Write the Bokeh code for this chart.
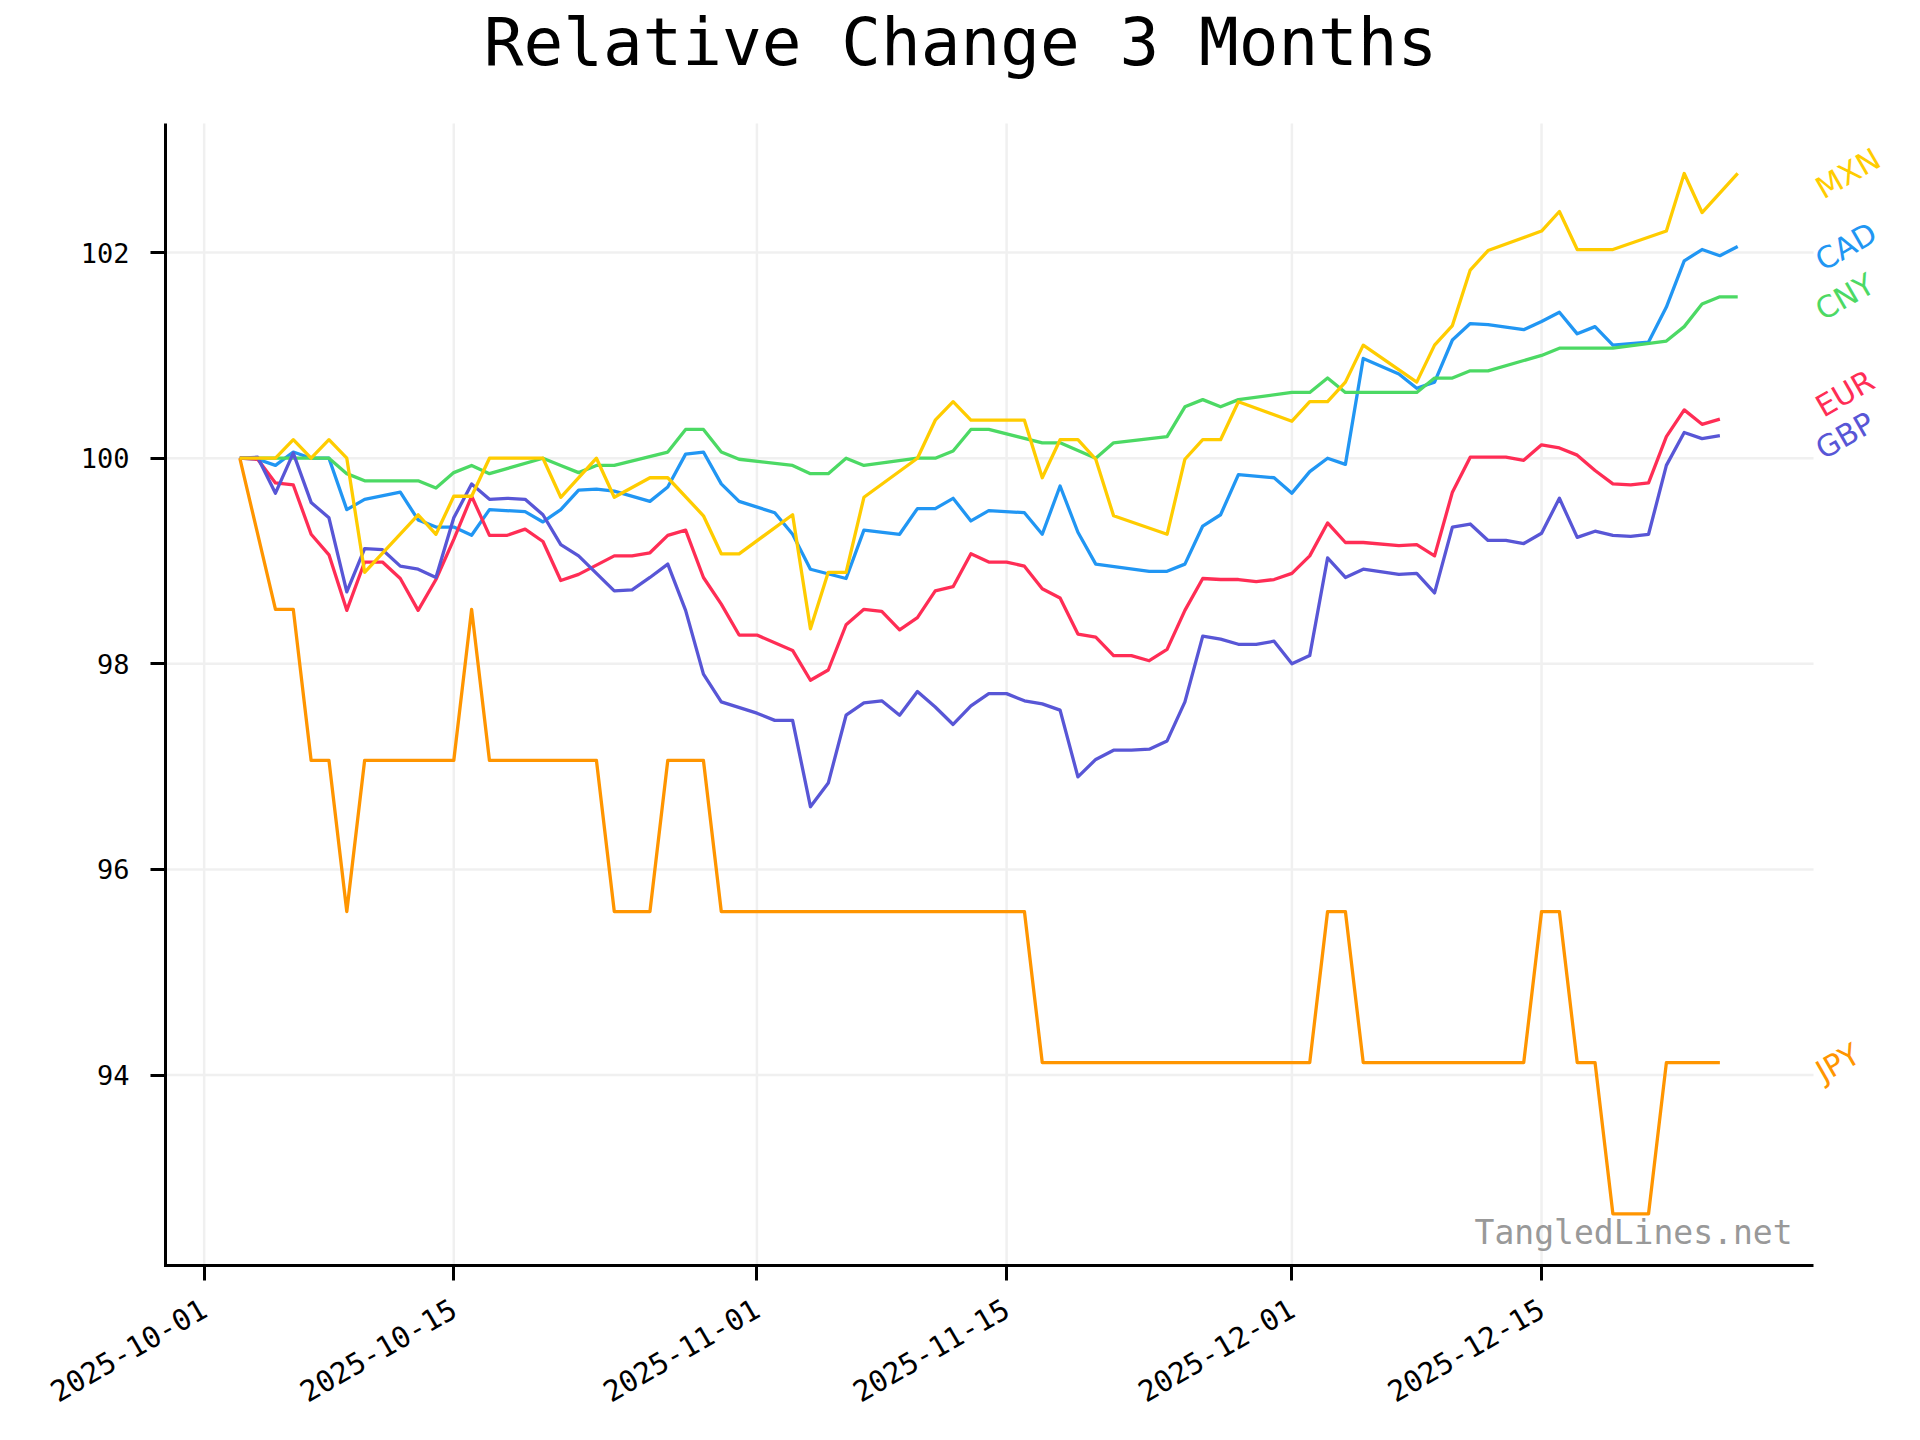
import math
import pandas as pd
from bokeh.plotting import figure
from bokeh.models import Range1d, FixedTicker, DatetimeTickFormatter, Label
from bokeh.embed import file_html
from bokeh.resources import INLINE

# ---------------- data ----------------
mxn_dates = ["2025-10-03", "2025-10-05", "2025-10-06", "2025-10-07", "2025-10-08", "2025-10-09", "2025-10-10",
             "2025-10-13", "2025-10-14", "2025-10-15", "2025-10-16", "2025-10-17", "2025-10-20", "2025-10-21",
             "2025-10-23", "2025-10-24", "2025-10-26", "2025-10-27", "2025-10-29", "2025-10-30", "2025-10-31",
             "2025-11-03", "2025-11-04", "2025-11-05", "2025-11-06", "2025-11-07", "2025-11-10", "2025-11-11",
             "2025-11-12", "2025-11-13", "2025-11-16", "2025-11-17", "2025-11-18", "2025-11-19", "2025-11-20",
             "2025-11-21", "2025-11-24", "2025-11-25", "2025-11-26", "2025-11-27", "2025-11-28", "2025-12-01",
             "2025-12-02", "2025-12-03", "2025-12-04", "2025-12-05", "2025-12-08", "2025-12-09", "2025-12-10",
             "2025-12-11", "2025-12-12", "2025-12-15", "2025-12-16", "2025-12-17", "2025-12-19", "2025-12-22",
             "2025-12-23", "2025-12-24", "2025-12-26"]
mxn_values = [100.00, 100.00, 100.18, 100.00, 100.18, 100.00, 98.89,
              99.45, 99.26, 99.63, 99.63, 100.00, 100.00, 99.62,
              100.00, 99.62, 99.81, 99.81, 99.44, 99.07, 99.07,
              99.45, 98.34, 98.89, 98.89, 99.62, 100.00, 100.37,
              100.55, 100.37, 100.37, 99.81, 100.18, 100.18, 99.99,
              99.44, 99.26, 99.99, 100.18, 100.18, 100.55, 100.36,
              100.55, 100.55, 100.74, 101.10, 100.74, 101.10, 101.29,
              101.83, 102.02, 102.21, 102.40, 102.03, 102.03, 102.21,
              102.77, 102.39, 102.77]

cny_dates = ["2025-10-03", "2025-10-08", "2025-10-09", "2025-10-10", "2025-10-13", "2025-10-14", "2025-10-15",
             "2025-10-16", "2025-10-17", "2025-10-20", "2025-10-21", "2025-10-22", "2025-10-23", "2025-10-24",
             "2025-10-27", "2025-10-28", "2025-10-29", "2025-10-30", "2025-10-31", "2025-11-03", "2025-11-04",
             "2025-11-05", "2025-11-06", "2025-11-07", "2025-11-10", "2025-11-11", "2025-11-12", "2025-11-13",
             "2025-11-14", "2025-11-17", "2025-11-18", "2025-11-20", "2025-11-21", "2025-11-24", "2025-11-25",
             "2025-11-26", "2025-11-27", "2025-11-28", "2025-12-01", "2025-12-02", "2025-12-03", "2025-12-04",
             "2025-12-08", "2025-12-09", "2025-12-10", "2025-12-11", "2025-12-12", "2025-12-15", "2025-12-16",
             "2025-12-19", "2025-12-22", "2025-12-23", "2025-12-24", "2025-12-25", "2025-12-26"]
cny_values = [100.00, 100.00, 99.85, 99.78, 99.78, 99.71, 99.86,
              99.93, 99.85, 100.00, 99.93, 99.86, 99.93, 99.93,
              100.06, 100.28, 100.28, 100.06, 99.99, 99.93, 99.85,
              99.85, 100.00, 99.93, 100.00, 100.00, 100.07, 100.28,
              100.28, 100.15, 100.15, 100.00, 100.15, 100.21, 100.50,
              100.57, 100.50, 100.57, 100.64, 100.64, 100.78, 100.64,
              100.64, 100.78, 100.78, 100.85, 100.85, 101.00, 101.07,
              101.07, 101.14, 101.28, 101.50, 101.57, 101.57]

cad_dates = ["2025-10-03", "2025-10-04", "2025-10-05", "2025-10-06", "2025-10-07", "2025-10-08", "2025-10-09",
             "2025-10-10", "2025-10-12", "2025-10-13", "2025-10-14", "2025-10-15", "2025-10-16", "2025-10-17",
             "2025-10-19", "2025-10-20", "2025-10-21", "2025-10-22", "2025-10-23", "2025-10-24", "2025-10-26",
             "2025-10-27", "2025-10-28", "2025-10-29", "2025-10-30", "2025-10-31", "2025-11-02", "2025-11-03",
             "2025-11-04", "2025-11-06", "2025-11-07", "2025-11-09", "2025-11-10", "2025-11-11", "2025-11-12",
             "2025-11-13", "2025-11-14", "2025-11-16", "2025-11-17", "2025-11-18", "2025-11-19", "2025-11-20",
             "2025-11-23", "2025-11-24", "2025-11-25", "2025-11-26", "2025-11-27", "2025-11-28", "2025-11-30",
             "2025-12-01", "2025-12-02", "2025-12-03", "2025-12-04", "2025-12-05", "2025-12-07", "2025-12-08",
             "2025-12-09", "2025-12-10", "2025-12-11", "2025-12-12", "2025-12-14", "2025-12-15", "2025-12-16",
             "2025-12-17", "2025-12-18", "2025-12-19", "2025-12-21", "2025-12-22", "2025-12-23", "2025-12-24",
             "2025-12-25", "2025-12-26"]
cad_values = [100.00, 99.99, 99.93, 100.06, 100.00, 100.00, 99.50,
              99.60, 99.67, 99.40, 99.33, 99.33, 99.25, 99.50,
              99.48, 99.38, 99.50, 99.69, 99.70, 99.68, 99.58,
              99.72, 100.04, 100.06, 99.75, 99.58, 99.47, 99.26,
              98.92, 98.83, 99.30, 99.26, 99.51, 99.51, 99.61,
              99.39, 99.49, 99.47, 99.26, 99.73, 99.28, 98.97,
              98.90, 98.90, 98.97, 99.34, 99.45, 99.84, 99.81,
              99.66, 99.87, 100.00, 99.94, 100.97, 100.82, 100.68,
              100.74, 101.15, 101.31, 101.30, 101.25, 101.33, 101.42,
              101.21, 101.28, 101.10, 101.13, 101.47, 101.92, 102.03,
              101.97, 102.06]

eur_dates = ["2025-10-03", "2025-10-04", "2025-10-05", "2025-10-06", "2025-10-07", "2025-10-08", "2025-10-09",
             "2025-10-10", "2025-10-11", "2025-10-12", "2025-10-13", "2025-10-14", "2025-10-15", "2025-10-16",
             "2025-10-17", "2025-10-18", "2025-10-19", "2025-10-20", "2025-10-21", "2025-10-22", "2025-10-24",
             "2025-10-25", "2025-10-26", "2025-10-27", "2025-10-28", "2025-10-29", "2025-10-30", "2025-10-31",
             "2025-11-01", "2025-11-03", "2025-11-04", "2025-11-05", "2025-11-06", "2025-11-07", "2025-11-08",
             "2025-11-09", "2025-11-10", "2025-11-11", "2025-11-12", "2025-11-13", "2025-11-14", "2025-11-15",
             "2025-11-16", "2025-11-17", "2025-11-18", "2025-11-19", "2025-11-20", "2025-11-21", "2025-11-22",
             "2025-11-23", "2025-11-24", "2025-11-25", "2025-11-26", "2025-11-27", "2025-11-28", "2025-11-29",
             "2025-11-30", "2025-12-01", "2025-12-02", "2025-12-03", "2025-12-04", "2025-12-05", "2025-12-07",
             "2025-12-08", "2025-12-09", "2025-12-10", "2025-12-11", "2025-12-13", "2025-12-14", "2025-12-15",
             "2025-12-16", "2025-12-17", "2025-12-18", "2025-12-19", "2025-12-20", "2025-12-21", "2025-12-22",
             "2025-12-23", "2025-12-24", "2025-12-25"]
eur_values = [100.00, 99.99, 99.76, 99.74, 99.26, 99.06, 98.52,
              98.99, 98.99, 98.83, 98.52, 98.82, 99.21, 99.63,
              99.25, 99.25, 99.31, 99.19, 98.81, 98.87, 99.05,
              99.05, 99.08, 99.25, 99.30, 98.84, 98.58, 98.28,
              98.28, 98.13, 97.84, 97.94, 98.38, 98.53, 98.51,
              98.33, 98.45, 98.71, 98.75, 99.07, 98.99, 98.99,
              98.95, 98.73, 98.64, 98.29, 98.26, 98.08, 98.08,
              98.03, 98.14, 98.52, 98.83, 98.82, 98.82, 98.80,
              98.82, 98.88, 99.05, 99.37, 99.18, 99.18, 99.15,
              99.16, 99.05, 99.67, 100.01, 100.01, 99.98, 100.13,
              100.10, 100.03, 99.88, 99.75, 99.74, 99.76, 100.21,
              100.47, 100.33, 100.38]

gbp_dates = ["2025-10-03", "2025-10-04", "2025-10-05", "2025-10-06", "2025-10-07", "2025-10-08", "2025-10-09",
             "2025-10-10", "2025-10-11", "2025-10-12", "2025-10-13", "2025-10-14", "2025-10-15", "2025-10-16",
             "2025-10-17", "2025-10-18", "2025-10-19", "2025-10-20", "2025-10-21", "2025-10-22", "2025-10-24",
             "2025-10-25", "2025-10-26", "2025-10-27", "2025-10-28", "2025-10-29", "2025-10-30", "2025-11-01",
             "2025-11-02", "2025-11-03", "2025-11-04", "2025-11-05", "2025-11-06", "2025-11-07", "2025-11-08",
             "2025-11-09", "2025-11-10", "2025-11-11", "2025-11-12", "2025-11-13", "2025-11-14", "2025-11-15",
             "2025-11-16", "2025-11-17", "2025-11-18", "2025-11-19", "2025-11-20", "2025-11-21", "2025-11-22",
             "2025-11-23", "2025-11-24", "2025-11-25", "2025-11-26", "2025-11-27", "2025-11-28", "2025-11-29",
             "2025-11-30", "2025-12-01", "2025-12-02", "2025-12-03", "2025-12-04", "2025-12-05", "2025-12-07",
             "2025-12-08", "2025-12-09", "2025-12-10", "2025-12-11", "2025-12-12", "2025-12-13", "2025-12-14",
             "2025-12-15", "2025-12-16", "2025-12-17", "2025-12-18", "2025-12-19", "2025-12-20", "2025-12-21",
             "2025-12-22", "2025-12-23", "2025-12-24", "2025-12-25"]
gbp_values = [100.00, 100.01, 99.66, 100.05, 99.57, 99.42, 98.70,
              99.12, 99.11, 98.95, 98.92, 98.84, 99.42, 99.75,
              99.60, 99.61, 99.60, 99.45, 99.16, 99.05, 98.71,
              98.72, 98.84, 98.97, 98.52, 97.90, 97.63, 97.52,
              97.45, 97.45, 96.61, 96.84, 97.50, 97.62, 97.64,
              97.50, 97.73, 97.58, 97.41, 97.59, 97.71, 97.71,
              97.64, 97.61, 97.55, 96.90, 97.07, 97.16, 97.16,
              97.17, 97.25, 97.63, 98.27, 98.24, 98.19, 98.19,
              98.22, 98.00, 98.08, 99.03, 98.84, 98.92, 98.87,
              98.88, 98.69, 99.33, 99.36, 99.20, 99.20, 99.17,
              99.27, 99.61, 99.23, 99.29, 99.25, 99.24, 99.26,
              99.93, 100.25, 100.19, 100.22]

jpy_dates = ["2025-10-03", "2025-10-05", "2025-10-06", "2025-10-07", "2025-10-08", "2025-10-09", "2025-10-10",
             "2025-10-15", "2025-10-16", "2025-10-17", "2025-10-23", "2025-10-24", "2025-10-26", "2025-10-27",
             "2025-10-29", "2025-10-30", "2025-11-16", "2025-11-17", "2025-12-02", "2025-12-03", "2025-12-04",
             "2025-12-05", "2025-12-14", "2025-12-15", "2025-12-16", "2025-12-17", "2025-12-18", "2025-12-19",
             "2025-12-21", "2025-12-22", "2025-12-25"]
jpy_values = [100.00, 98.53, 98.53, 97.06, 97.06, 95.59, 97.06,
              97.06, 98.53, 97.06, 97.06, 95.59, 95.59, 97.06,
              97.06, 95.59, 95.59, 94.12, 94.12, 95.59, 95.59,
              94.12, 94.12, 95.59, 95.59, 94.12, 94.12, 92.65,
              92.65, 94.12, 94.12]

currencies = ["CAD", "CNY", "EUR", "GBP", "JPY", "MXN"]
series_dates = [cad_dates, cny_dates, eur_dates, gbp_dates, jpy_dates, mxn_dates]
series_values = [cad_values, cny_values, eur_values, gbp_values, jpy_values, mxn_values]
colors = ["#2196F3", "#4CD964", "#FF2D55", "#5856D6", "#FF9500", "#FFCC00"]

y_ticks = [94, 96, 98, 100, 102]
x_tick_dates = ["2025-10-01", "2025-10-15", "2025-11-01", "2025-11-15", "2025-12-01", "2025-12-15"]

title_text = "Relative Change 3 Months"
watermark = "TangledLines.net"


# ---------------- layout geometry (canvas pixels) ----------------
def ms(s):
    return pd.Timestamp(s).value / 1e6


MONO = "DejaVu Sans Mono"
SANS = "DejaVu Sans"

W, H = 1904, 1424
SPL = 165    # left spine
SPR = 1813   # end of bottom spine
SPT = 123    # top of left spine
SPB = 1265   # bottom spine
FL = SPL - 2   # frame left
FB = SPB + 2   # frame bottom

x0, x1 = ms("2025-09-28 20:00"), ms("2025-12-30 06:00")   # axes box limits
y0, y1 = 92.147, 103.256
kx = (x1 - x0) / (SPR - SPL)
ky = (y1 - y0) / (SPB - SPT)


def px_x(px):
    return x0 + (px - SPL) * kx


def px_y(py):
    return y0 + (SPB - py) * ky


p = figure(width=W, height=H, output_backend="svg", toolbar_location=None,
           x_axis_type="datetime",
           x_range=Range1d(px_x(FL), px_x(W)), y_range=Range1d(px_y(FB), px_y(0)),
           min_border_left=FL, min_border_right=0, min_border_top=0, min_border_bottom=H - FB)
p.background_fill_color = "white"
p.border_fill_color = "white"
p.outline_line_color = None
p.xgrid.visible = False
p.ygrid.visible = False

# grid lines limited to the axes box
grid_c, grid_w = "#f0f0f0", 2.5
xt = [ms(t) for t in x_tick_dates]
p.segment(x0=xt, y0=[y0] * len(xt), x1=xt, y1=[y1] * len(xt), line_color=grid_c, line_width=grid_w)
p.segment(x0=[x0] * len(y_ticks), y0=y_ticks, x1=[x1] * len(y_ticks), y1=y_ticks,
          line_color=grid_c, line_width=grid_w)

for name, d, v, c in zip(currencies, series_dates, series_values, colors):
    p.line(pd.to_datetime(d), v, line_color=c, line_width=3.3, line_join="round")

# spines (left + bottom)
p.line([x0, x0, x1], [y1, y0, y0], line_color="black", line_width=3, line_join="miter")

# axes: ticks and labels only
p.yaxis.ticker = FixedTicker(ticks=y_ticks)
p.xaxis.ticker = FixedTicker(ticks=xt)
fmt = "%Y-%m-%d"
p.xaxis.formatter = DatetimeTickFormatter(days=fmt, months=fmt, years=fmt, hours=fmt,
                                          minutes=fmt, seconds=fmt, milliseconds=fmt,
                                          microseconds=fmt, hourmin=fmt, minsec=fmt)
for ax in (p.xaxis, p.yaxis):
    ax.axis_line_color = None
    ax.major_tick_line_color = "black"
    ax.major_tick_line_width = 3
    ax.major_tick_out = 13
    ax.major_tick_in = 2
    ax.minor_tick_line_color = None
    ax.major_label_text_font = MONO
    ax.major_label_text_color = "black"
p.yaxis.major_label_text_font_size = "27px"
p.xaxis.major_label_text_font_size = "29px"
p.yaxis.major_label_standoff = 21
p.xaxis.major_label_standoff = 26
p.xaxis.major_label_orientation = math.pi / 6

# title
p.add_layout(Label(x=px_x(960), y=px_y(42), text=title_text, text_font=MONO, text_font_size="66px",
                   text_color="black", text_align="center", text_baseline="alphabetic"))

# end labels (pushed apart when too close)
char_w = {"M": 0.863, "X": 0.685, "N": 0.748, "C": 0.698, "A": 0.684, "D": 0.770, "Y": 0.611,
          "E": 0.632, "U": 0.732, "R": 0.695, "G": 0.775, "B": 0.686, "P": 0.603, "J": 0.295}
fs = 30
last_vals = [v[-1] for v in series_values]
order = sorted(range(len(currencies)), key=lambda i: last_vals[i])
label_y = list(last_vals)
min_gap = 0.41
for a, b in zip(order[:-1], order[1:]):
    if label_y[b] - label_y[a] < min_gap:
        label_y[b] = label_y[a] + min_gap
ang = math.pi / 6
for name, c, ly in zip(currencies, colors, label_y):
    L = sum(char_w[ch] for ch in name) * fs
    half_w = (L * math.cos(ang) + 0.75 * fs * math.sin(ang)) / 2
    p.add_layout(Label(x=x1, y=ly, text=name, text_color=c, text_font=SANS,
                       text_font_size=f"{fs}px", angle=ang, text_align="center",
                       text_baseline="middle", x_offset=half_w - 1))

# watermark
p.add_layout(Label(x=x1, y=px_y(1232), text=watermark, text_color="#999999", text_font=MONO,
                   text_font_size="33px", text_align="right", text_baseline="middle", x_offset=-21))

open("out.html", "w").write(file_html(p, INLINE))
